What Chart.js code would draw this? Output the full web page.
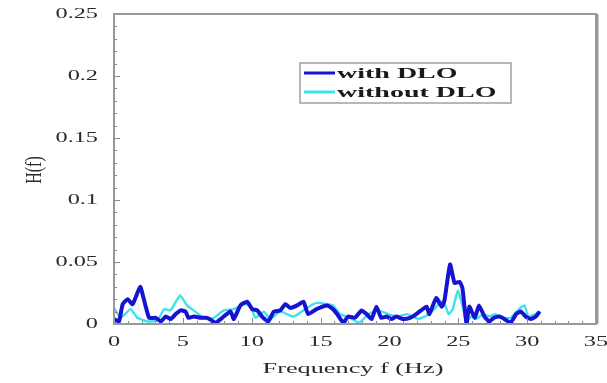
<!DOCTYPE html>
<html>
<head>
<meta charset="utf-8">
<script src="https://cdn.jsdelivr.net/npm/chart.js@4.4.1/dist/chart.umd.min.js"></script>
<style>
  html, body { margin: 0; padding: 0; background: #fff; }
  #wrap { width: 607px; height: 383px; }
</style>
</head>
<body>
<div id="wrap"><canvas id="hChart" width="607" height="383"></canvas></div>
<script>
// values
const freqWith = [0, 0.36, 0.63, 0.99, 1.35, 1.9, 2.19, 2.55, 3.04, 3.4, 3.76, 4.12, 4.48, 4.84, 5.2, 5.4, 5.8, 6.3, 6.77, 7.37,
  7.86, 8.46, 8.7, 9.18, 9.67, 10.03, 10.4, 10.75, 11.2, 11.6, 12.08, 12.44, 12.8, 13.3, 13.75, 14.1, 14.7, 15.45, 15.9, 16.2,
  16.65, 17.0, 17.5, 17.98, 18.34, 18.7, 19.06, 19.4, 19.8, 20.15, 20.5, 20.99, 21.5, 21.95, 22.3, 22.7, 22.9, 23.4, 23.8, 24.0,
  24.4, 24.73, 25.1, 25.3, 25.6, 25.8, 26.2, 26.5, 26.9, 27.25, 27.6, 28.0, 28.35, 28.8, 29.2, 29.55, 29.9, 30.27, 30.63, 30.9];
const hWith = [0.004, 0.002, 0.016, 0.020, 0.016, 0.030, 0.019, 0.005, 0.005, 0.002, 0.006, 0.004, 0.008, 0.011, 0.010, 0.005, 0.006, 0.005, 0.005, 0.001,
  0.005, 0.010, 0.004, 0.015, 0.018, 0.012, 0.011, 0.006, 0.002, 0.010, 0.011, 0.016, 0.013, 0.015, 0.018, 0.008, 0.012, 0.015, 0.012, 0.008,
  0.001, 0.006, 0.005, 0.011, 0.008, 0.004, 0.014, 0.005, 0.006, 0.004, 0.006, 0.004, 0.005, 0.008, 0.011, 0.014, 0.008, 0.021, 0.014, 0.019,
  0.048, 0.033, 0.034, 0.029, 0.000, 0.014, 0.005, 0.015, 0.006, 0.002, 0.005, 0.006, 0.004, 0.001, 0.008, 0.010, 0.006, 0.004, 0.006, 0.010];

const freqWithout = [0, 0.5, 1.2, 1.7, 2.44, 3.16, 3.64, 4.1, 4.8, 5.3, 5.9, 6.5, 7.25, 7.97, 8.7, 9.42, 9.9, 10.27, 10.87, 11.35,
  12.08, 13.04, 14.0, 14.7, 15.9, 16.4, 17.1, 17.8, 18.5, 19.2, 19.9, 20.6, 21.3, 22.1, 22.9, 23.5, 23.9, 24.3, 24.6, 24.97,
  25.3, 25.6, 25.9, 26.3, 26.8, 27.25, 27.7, 28.2, 28.8, 29.4, 29.8, 30.1, 30.6, 31.0];
const hWithout = [0.013, 0.005, 0.012, 0.005, 0.002, 0.003, 0.012, 0.011, 0.023, 0.015, 0.010, 0.005, 0.005, 0.011, 0.012, 0.016, 0.015, 0.005, 0.010, 0.004,
  0.010, 0.006, 0.013, 0.017, 0.015, 0.008, 0.005, 0.001, 0.008, 0.011, 0.008, 0.006, 0.008, 0.004, 0.008, 0.015, 0.019, 0.008, 0.012, 0.027,
  0.015, 0.002, 0.006, 0.004, 0.008, 0.006, 0.008, 0.005, 0.005, 0.012, 0.015, 0.006, 0.008, 0.010];

const xTicks = [0, 5, 10, 15, 20, 25, 30, 35];
const yTicks = [0, 0.05, 0.1, 0.15, 0.2, 0.25];
const yTickLabels = ['0', '0.05', '0.1', '0.15', '0.2', '0.25'];

const xTitle = 'Frequency f (Hz)';
const yTitle = 'H(f)';

const SERIF = '"Liberation Serif", "Times New Roman", serif';
const STRETCH = 1.62;

function toPoints(xs, ys) {
  return xs.map((x, i) => ({ x: x, y: ys[i] }));
}

// text in the original figure is stretched sideways
function wideText(ctx, txt, x, y, align, font, sx) {
  ctx.save();
  ctx.translate(x, y);
  ctx.scale(sx, 1);
  ctx.font = font;
  ctx.textAlign = align;
  ctx.textBaseline = 'middle';
  ctx.fillText(txt, 0, 0);
  ctx.restore();
}

const framePlugin = {
  id: 'frame',
  afterDraw(chart) {
    const ctx = chart.ctx;
    const a = chart.chartArea;
    const xs = chart.scales.x;
    const ys = chart.scales.y;

    // minor + major ticks pointing inward
    ctx.save();
    ctx.strokeStyle = '#8a8a8a';
    ctx.lineWidth = 1;
    ctx.beginPath();
    for (let v = 0; v <= 35; v++) {
      const px = Math.round(xs.getPixelForValue(v)) + 0.5;
      const len = v % 5 === 0 ? 6 : 3;
      ctx.moveTo(px, a.bottom);
      ctx.lineTo(px, a.bottom - len);
    }
    for (let k = 0; k <= 25; k++) {
      const py = Math.round(ys.getPixelForValue(k / 100)) + 0.5;
      const len = k % 5 === 0 ? 6 : 3;
      ctx.moveTo(a.left, py);
      ctx.lineTo(a.left + len, py);
    }
    ctx.stroke();

    // frame
    ctx.strokeStyle = '#999';
    ctx.lineWidth = 2;
    ctx.strokeRect(a.left, a.top, a.right - a.left, a.bottom - a.top);
    ctx.lineWidth = 3;
    ctx.beginPath();
    ctx.moveTo(a.right + 1, a.top);
    ctx.lineTo(a.right + 1, a.bottom);
    ctx.stroke();
    ctx.restore();

    // tick labels
    ctx.save();
    ctx.fillStyle = '#2a2a2a';
    const tickFont = '15px ' + SERIF;
    xTicks.forEach(v => {
      wideText(ctx, String(v), xs.getPixelForValue(v), a.bottom + 18, 'center', tickFont, STRETCH);
    });
    yTicks.forEach((v, i) => {
      wideText(ctx, yTickLabels[i], a.left - 16, ys.getPixelForValue(v), 'right', tickFont, STRETCH);
    });

    // axis titles
    wideText(ctx, xTitle, (a.left + a.right) / 2 - 2, a.bottom + 45, 'center', '15px ' + SERIF, 1.75);
    ctx.save();
    ctx.translate(35, 170);
    ctx.rotate(-Math.PI / 2);
    ctx.scale(1, 1.5);
    ctx.font = '16px ' + SERIF;
    ctx.textAlign = 'center';
    ctx.textBaseline = 'middle';
    ctx.fillText(yTitle, 0, 0);
    ctx.restore();

    // legend box
    const bx = 300, by = 63, bw = 211, bh = 40;
    ctx.fillStyle = '#fff';
    ctx.fillRect(bx, by, bw, bh);
    ctx.strokeStyle = '#a0a0a0';
    ctx.lineWidth = 1.5;
    ctx.strokeRect(bx, by, bw, bh);
    chart.data.datasets.forEach((ds, i) => {
      const ly = by + 10 + i * 19;
      ctx.strokeStyle = ds.borderColor;
      ctx.lineWidth = 3;
      ctx.beginPath();
      ctx.moveTo(bx + 4, ly);
      ctx.lineTo(bx + 35, ly);
      ctx.stroke();
      ctx.fillStyle = '#1a1a1a';
      wideText(ctx, ds.label, bx + 37, ly + 1, 'left', 'bold 14px ' + SERIF, 2.0);
    });
    ctx.restore();
  }
};

const ctx = document.getElementById('hChart').getContext('2d');

const hChart = new Chart(ctx, {
  type: 'line',
  data: {
    datasets: [
      {
        label: 'with DLO',
        data: toPoints(freqWith, hWith),
        borderColor: '#1414d2',
        borderWidth: 4,
        pointRadius: 0,
        fill: false,
        tension: 0.15,
        order: 0
      },
      {
        label: 'without DLO',
        data: toPoints(freqWithout, hWithout),
        borderColor: '#3ee2ee',
        borderWidth: 2.4,
        pointRadius: 0,
        fill: false,
        tension: 0.15,
        order: 1
      }
    ]
  },
  options: {
    responsive: false,
    animation: false,
    layout: {
      padding: { left: 106, right: 11, top: 14, bottom: 51 }
    },
    plugins: {
      legend: { display: false },
      tooltip: { enabled: false }
    },
    scales: {
      x: {
        type: 'linear',
        min: 0,
        max: 35,
        grid: { display: false },
        border: { display: false },
        ticks: { display: false }
      },
      y: {
        min: 0,
        max: 0.25,
        grid: { display: false },
        border: { display: false },
        ticks: { display: false }
      }
    }
  },
  plugins: [framePlugin]
});
</script>
</body>
</html>
